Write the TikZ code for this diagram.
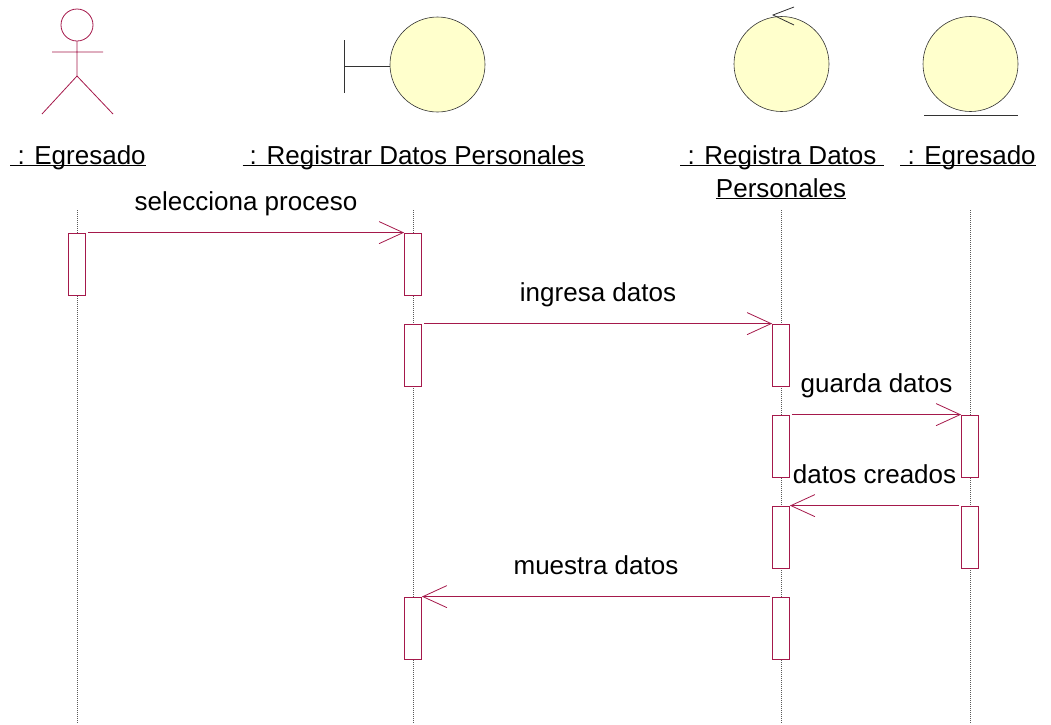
\documentclass[tikz,border=0pt]{standalone}
\usepackage{fontspec}
\setmainfont{Liberation Sans}
\usetikzlibrary{arrows.meta}
\definecolor{umlred}{RGB}{165,25,75}
\definecolor{umlyellow}{RGB}{255,255,204}
\newcommand{\ulname}[1]{\underline{\smash{#1}}}
\tikzset{
  lifeline/.style={gray!70!black, line width=0.6pt, dash pattern=on 1pt off 1pt},
  actbox/.style={draw=umlred, fill=white, line width=0.8pt, minimum width=17pt, minimum height=62pt, inner sep=0pt},
  msg/.style={umlred, line width=0.8pt, -{Straight Barb[length=24pt, width=22pt, line width=0.8pt]}},
  msglabel/.style={anchor=base, yshift=22pt, text=black, font=\fontsize{26}{30}\selectfont, inner sep=0pt},
  objname/.style={anchor=base, font=\fontsize{26}{33}\selectfont, inner sep=0pt},
  icon/.style={draw=black!80, fill=umlyellow, line width=0.6pt}
}
\begin{document}
\begin{tikzpicture}[x=1pt, y=-1pt]
  \useasboundingbox (0,0) rectangle (1051,724);
  % icons
  \draw[umlred, line width=0.8pt] (77,25) circle (16);
  \draw[umlred, line width=0.8pt] (52,52) -- (103,52) (77,41) -- (77,76) (42,114) -- (77,76) -- (113,114);
  \draw[black!80, line width=0.8pt] (344,40) -- (344,93) (344,66) -- (390,66);
  \draw[icon] (437.5,64.5) circle (47.5);
  \draw[icon] (781.5,64) circle (47.5);
  \draw[black!80, line width=0.8pt] (794,7) -- (773,15) -- (794,25);
  \draw[icon] (970.5,64) circle (47.5);
  \draw[black!80, line width=0.8pt] (924,115) -- (1018,115);
  % object names
  \node[objname] (actname) at (78,164) {\ulname{\ : Egresado}};
  \node[objname] (bndname) at (413.5,164) {\ulname{\ : Registrar Datos Personales}};
  \node[objname] (ctlname) at (782,164) {\ulname{\ : Registra Datos\ }};
  \node[objname] (ctlname2) at (781,197) {\ulname{Personales}};
  \node[objname] (entname) at (968,164) {\ulname{\ : Egresado}};
  % lifelines
  \coordinate (actl) at (77,210);
  \coordinate (bndl) at (413,210);
  \coordinate (ctll) at (781,210);
  \coordinate (entl) at (970,210);
  \draw[lifeline] (actl) -- (77,724);
  \draw[lifeline] (bndl) -- (413,724);
  \draw[lifeline] (ctll) -- (781,724);
  \draw[lifeline] (entl) -- (970,724);
  % activations
  \node[actbox] (act1) at (77,264) {};
  \node[actbox] (bnd1) at (413,264) {};
  \node[actbox] (bnd2) at (413,355) {};
  \node[actbox] (ctl1) at (781,355) {};
  \node[actbox] (ctl2) at (781,446) {};
  \node[actbox] (ent1) at (970,446) {};
  \node[actbox] (ent2) at (970,537) {};
  \node[actbox] (ctl3) at (781,537) {};
  \node[actbox] (bnd3) at (413,628) {};
  \node[actbox] (ctl4) at (781,628) {};
  % messages
  \draw[msg] ([xshift=2pt]act1.north east) -- (bnd1.north west) node[msglabel, midway] {selecciona proceso};
  \draw[msg] ([xshift=2pt]bnd2.north east) -- (ctl1.north west) node[msglabel, midway] {ingresa datos};
  \draw[msg] ([xshift=2pt]ctl2.north east) -- (ent1.north west) node[msglabel, midway] {guarda datos};
  \draw[msg] ([xshift=-2pt]ent2.north west) -- (ctl3.north east) node[msglabel, midway] {datos creados};
  \draw[msg] ([xshift=-2pt]ctl4.north west) -- (bnd3.north east) node[msglabel, midway] {muestra datos};
\end{tikzpicture}
\end{document}
